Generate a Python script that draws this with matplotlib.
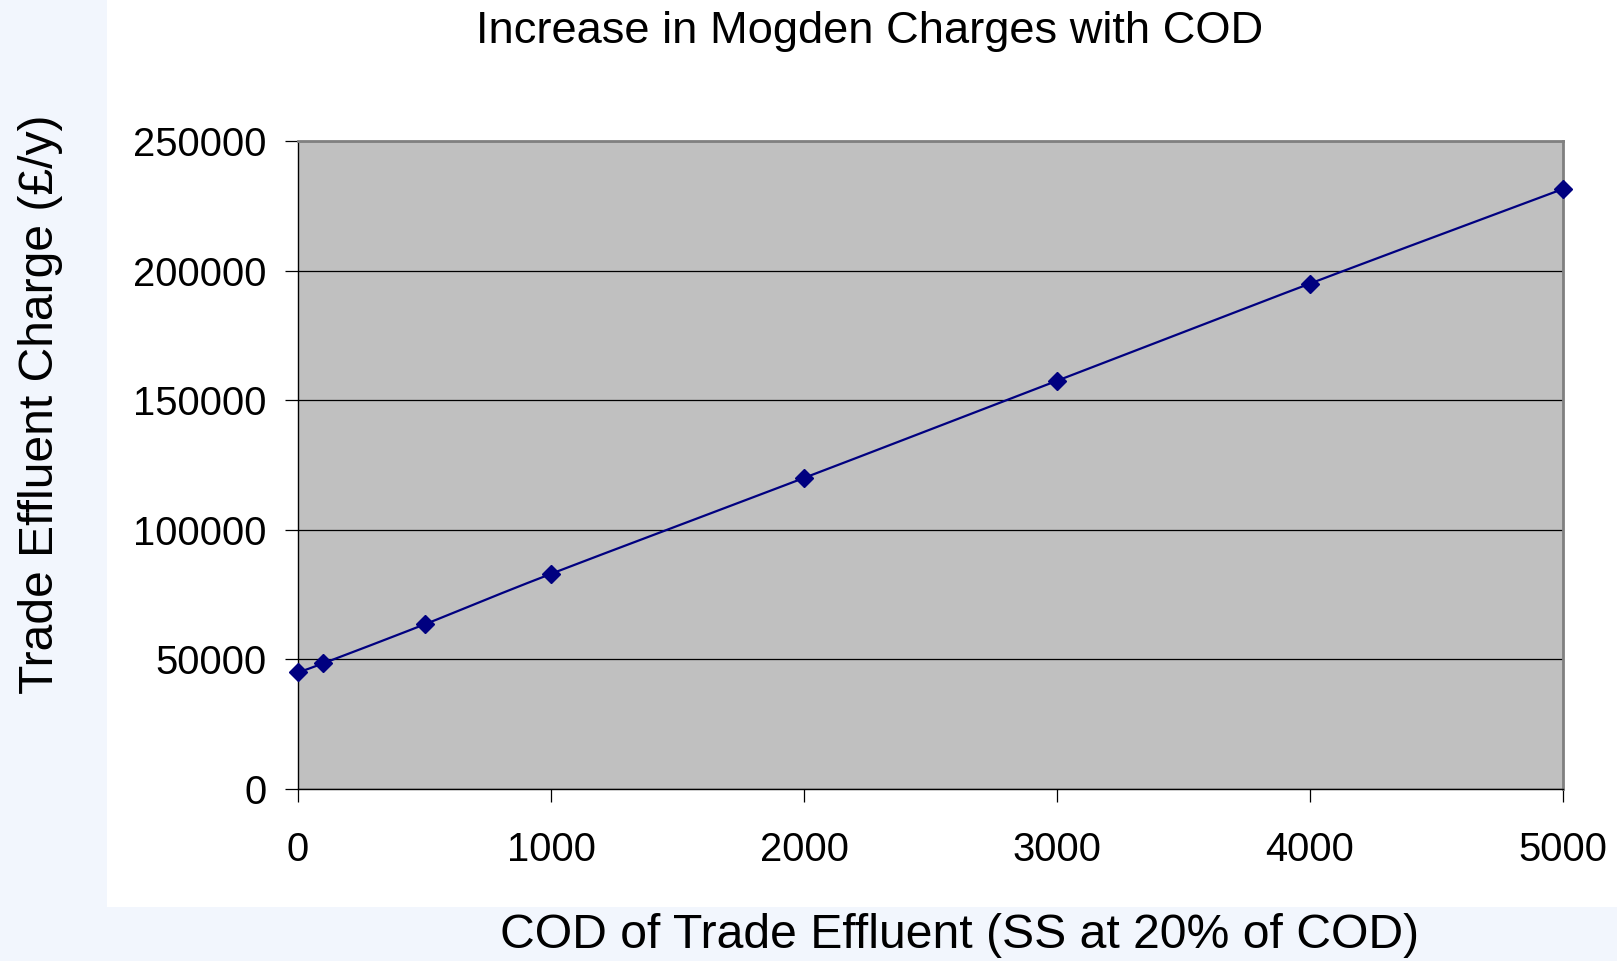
import numpy as np
import matplotlib
matplotlib.use("Agg")
import matplotlib.pyplot as plt
from matplotlib.patches import Rectangle

plt.rcParams['font.family'] = ['Liberation Sans', 'DejaVu Sans']

# Data
cod = [0, 100, 500, 1000, 2000, 3000, 4000, 5000]
charge = [45000, 48500, 63500, 83000, 120000, 157500, 195000, 231500]
title = "Increase in Mogden Charges with COD"
xlabel = "COD of Trade Effluent (SS at 20% of COD)"
ylabel = "Trade Effluent Charge (£/y)"
xticks = [0, 1000, 2000, 3000, 4000, 5000]
yticks = [0, 50000, 100000, 150000, 200000, 250000]

W, H = 1617, 961
fig = plt.figure(figsize=(W / 100, H / 100), dpi=100)
fig.patch.set_facecolor('#F2F6FD')
fig.patches.append(Rectangle((107 / W, 1 - 907 / H), 1 - 107 / W, 907 / H,
                             transform=fig.transFigure, facecolor='white',
                             edgecolor='none', zorder=-10))

L, R, T, B = 298, 1563, 141, 789
ax = fig.add_axes([L / W, 1 - B / H, (R - L) / W, (B - T) / H])
ax.set_zorder(5)
ax.set_facecolor('#C0C0C0')
ax.set_xlim(0, 5000)
ax.set_ylim(0, 250000)
ax.set_xticks(xticks)
ax.set_yticks(yticks)
ax.set_xticklabels([str(v) for v in xticks])
ax.set_yticklabels([str(v) for v in yticks])
ax.tick_params(axis='both', labelsize=28.8, length=9.5, width=0.9, color='black', direction='out')
ax.tick_params(axis='y', pad=13)
ax.tick_params(axis='x', pad=21)
ax.yaxis.grid(True, color='black', linewidth=0.9)
ax.set_axisbelow(True)
for s in ['top', 'right']:
    ax.spines[s].set_color('#808080')
    ax.spines[s].set_linewidth(2)
for s in ['left', 'bottom']:
    ax.spines[s].set_color('black')
    ax.spines[s].set_linewidth(1)

# Smoothed line (Bezier through points, like Excel's smoothed line)
px = np.array(cod, float) / 5000 * (R - L)
py = np.array(charge, float) / 250000 * (B - T)
P = np.column_stack([px, py])
curve = []
n = len(P)
for i in range(n - 1):
    p0 = P[i - 1] if i > 0 else P[i]
    p1, p2 = P[i], P[i + 1]
    p3 = P[i + 2] if i + 2 < n else P[i + 1]
    c1 = p1 + (p2 - p0) / 6
    c2 = p2 - (p3 - p1) / 6
    t = np.linspace(0, 1, 30)[:, None]
    seg = (1 - t) ** 3 * p1 + 3 * (1 - t) ** 2 * t * c1 + 3 * (1 - t) * t ** 2 * c2 + t ** 3 * p2
    curve.append(seg if i == 0 else seg[1:])
curve = np.vstack(curve)
ax.plot(curve[:, 0] / (R - L) * 5000, curve[:, 1] / (B - T) * 250000,
        color='#000080', linewidth=1.6, clip_on=False, zorder=3)
ax.plot(cod, charge, linestyle='none', marker='D', markersize=9.5,
        color='#000080', clip_on=False, zorder=4)

fig.text(870 / W, 1 - 31 / H, title, ha='center', va='center', fontsize=32.6)
fig.text(960 / W, 1 - 935 / H, xlabel, ha='center', va='center', fontsize=34.7)
fig.text(41 / W, 1 - 404 / H, ylabel, ha='center', va='center', rotation=90, fontsize=34.6)

fig.savefig('out.png', dpi=100, facecolor=fig.get_facecolor())
